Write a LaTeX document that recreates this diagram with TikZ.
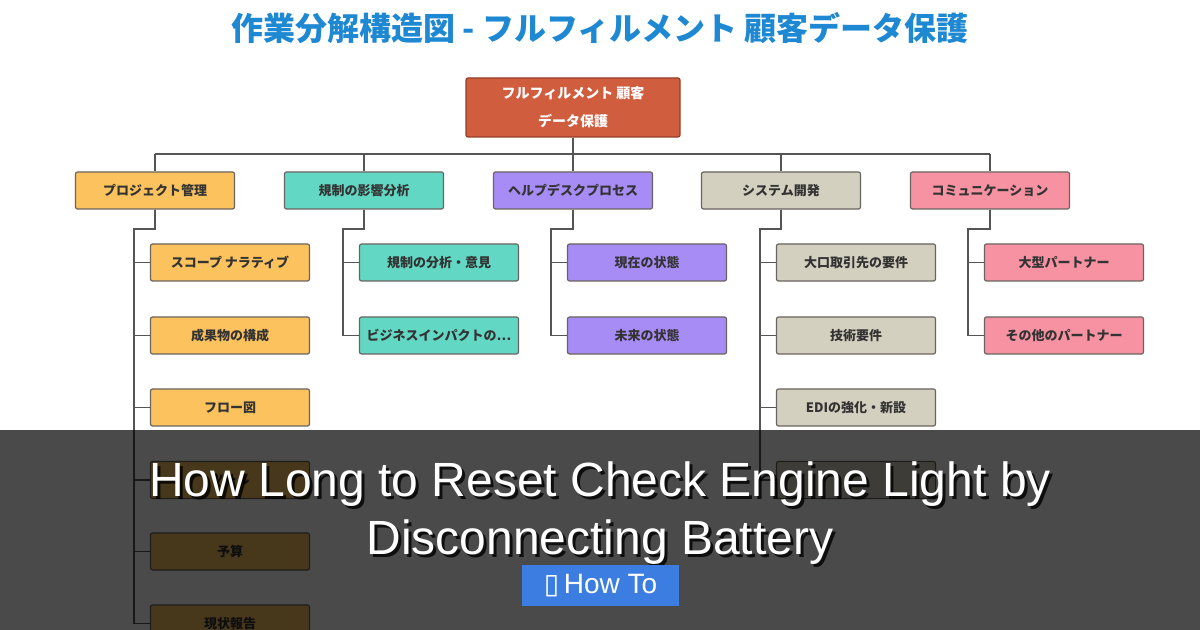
\documentclass[tikz,border=0pt]{standalone}
\usepackage{fontspec}
\setmainfont{Liberation Sans}
\newfontfamily\jp{Noto Sans CJK JP}
\newfontfamily\dejavu{DejaVu Sans}
\definecolor{titleblue}{RGB}{30,136,210}
\definecolor{rootfill}{RGB}{207,93,62}
\definecolor{rootedge}{RGB}{150,62,40}
\definecolor{cyel}{RGB}{251,194,94}
\definecolor{cteal}{RGB}{98,216,196}
\definecolor{cpurp}{RGB}{168,140,245}
\definecolor{cbeige}{RGB}{212,208,192}
\definecolor{cpink}{RGB}{246,146,162}
\definecolor{edgegray}{RGB}{105,100,95}
\definecolor{linegray}{RGB}{85,85,85}
\definecolor{txt}{RGB}{51,51,51}
\definecolor{btnblue}{RGB}{59,125,224}
\tikzset{
  box/.style={draw=edgegray, line width=0.6pt, rounded corners=1pt,
    minimum width=79.5pt, minimum height=18.5pt, inner sep=0pt,
    font=\jp\bfseries\fontsize{6.5}{8}\selectfont, text=txt},
  rootbox/.style={draw=rootedge, fill=rootfill, line width=0.6pt, rounded corners=1pt,
    minimum width=107pt, minimum height=29.5pt, inner sep=0pt, align=center,
    font=\jp\bfseries\fontsize{7}{14}\selectfont, text=white},
  conn/.style={draw=linegray, line width=0.75pt},
  overtext/.style={font=\fontsize{24}{28}\selectfont, text=white, anchor=base, inner sep=0pt},
  overshadow/.style={font=\fontsize{24}{28}\selectfont, text=black, anchor=base, inner sep=0pt, opacity=0.8},
}
\begin{document}
\begin{tikzpicture}[x=0.5pt,y=-0.5pt]
\useasboundingbox (0,0) rectangle (1200,630);
\clip (0,0) rectangle (1200,630);
\fill[white] (0,0) rectangle (1200,630);

% title
\node[font=\jp\bfseries\fontsize{16}{18}\selectfont, text=titleblue] (title) at (600,28) {作業分解構造図 - フルフィルメント 顧客データ保護};

% root
\node[rootbox] (root) at (573,107.5) {フルフィルメント 顧客\\データ保護};

% level 1
\node[box, fill=cyel]   (p)  at (155,190.5) {プロジェクト管理};
\node[box, fill=cteal]  (r)  at (364,190.5) {規制の影響分析};
\node[box, fill=cpurp]  (h)  at (573,190.5) {ヘルプデスクプロセス};
\node[box, fill=cbeige] (s)  at (781,190.5) {システム開発};
\node[box, fill=cpink]  (c)  at (990,190.5) {コミュニケーション};

% level 2
\node[box, fill=cyel] (p1) at (230,262.5) {スコープ ナラティブ};
\node[box, fill=cyel] (p2) at (230,335.5) {成果物の構成};
\node[box, fill=cyel] (p3) at (230,407.5) {フロー図};
\node[box, fill=cyel] (p4) at (230,480) {ツール};
\node[box, fill=cyel] (p5) at (230,551.5) {予算};
\node[box, fill=cyel] (p6) at (230,623.5) {現状報告};

\node[box, fill=cteal] (r1) at (439,262.5) {規制の分析・意見};
\node[box, fill=cteal] (r2) at (439,335.5) {ビジネスインパクトの…};

\node[box, fill=cpurp] (h1) at (647,262.5) {現在の状態};
\node[box, fill=cpurp] (h2) at (647,335.5) {未来の状態};

\node[box, fill=cbeige] (s1) at (856,262.5) {大口取引先の要件};
\node[box, fill=cbeige] (s2) at (856,335.5) {技術要件};
\node[box, fill=cbeige] (s3) at (856,407.5) {EDIの強化・新設};
\node[box, fill=cbeige] (s4) at (856,480) {};

\node[box, fill=cpink] (c1) at (1064,262.5) {大型パートナー};
\node[box, fill=cpink] (c2) at (1064,335.5) {その他のパートナー};

% bus
\coordinate (busL) at (155,154);
\coordinate (busR) at (990,154);
\draw[conn] (busL) -- (busR);
\draw[conn] (root.south) -- (root.south |- busL);
\foreach \n in {p,r,h,s,c} \draw[conn] (\n.north) -- (\n.north |- busL);

% trunks
\coordinate (pj) at (134,229);
\coordinate (rj) at (343,229);
\coordinate (hj) at (551,229);
\coordinate (sj) at (760,229);
\coordinate (cj) at (968,229);
\foreach \k in {1,...,6} \draw[conn] (p.south) |- (pj) |- (p\k.west);
\foreach \k in {1,2} \draw[conn] (r.south) |- (rj) |- (r\k.west);
\foreach \k in {1,2} \draw[conn] (h.south) |- (hj) |- (h\k.west);
\foreach \k in {1,...,4} \draw[conn] (s.south) |- (sj) |- (s\k.west);
\foreach \k in {1,2} \draw[conn] (c.south) |- (cj) |- (c\k.west);

% overlay
\fill[black, opacity=0.71] (0,430) rectangle (1200,630);

\node[overshadow] (l1s) at (603,500) {How Long to Reset Check Engine Light by};
\node[overshadow] (l2s) at (603,558) {Disconnecting Battery};
\node[overtext] (l1) at (600,497) {How Long to Reset Check Engine Light by};
\node[overtext] (l2) at (600,555) {Disconnecting Battery};

\node[fill=btnblue, minimum width=78.5pt, minimum height=20.5pt, inner sep=0pt] (btn) at (600.5,585.5) {};
\node[text=white, font=\fontsize{14}{16}\selectfont, inner sep=0pt] (btntext) at (btn.center) {{\dejavu ▯}\,How To};
\end{tikzpicture}
\end{document}
